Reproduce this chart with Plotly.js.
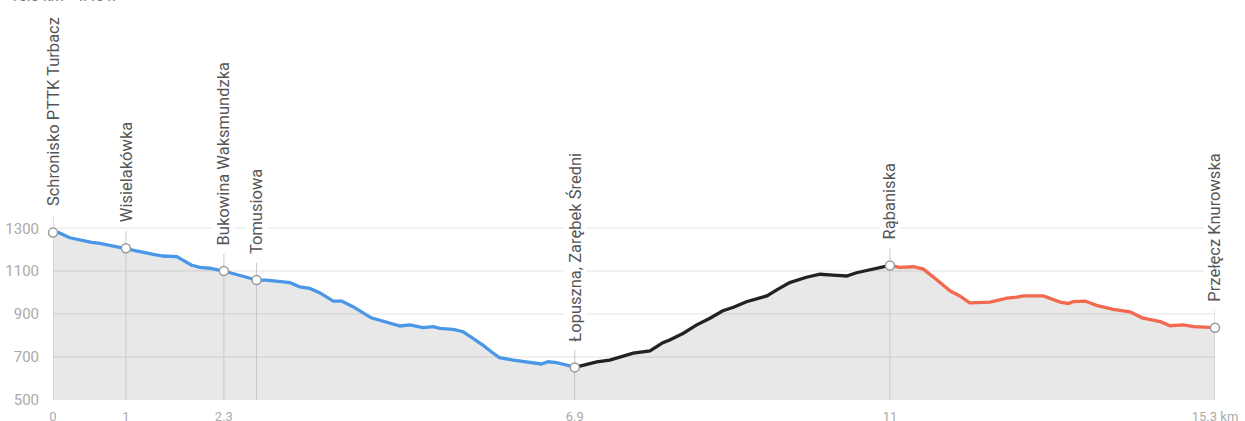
<!DOCTYPE html>
<html>
<head>
<meta charset="utf-8">
<script src="https://cdn.plot.ly/plotly-3.0.1.min.js"></script>
<style>html,body{margin:0;padding:0;background:#fff;}#chart{width:1245px;height:421px;}</style>
</head>
<body>
<div id="chart"></div>
<script>
// Segment 1 (blue): Schronisko PTTK Turbacz -> Łopuszna
const blueKm = [0,0.07,0.22,0.35,0.51,0.62,0.79,0.96,1.14,1.32,1.45,1.63,1.71,1.82,1.93,2.06,2.25,2.37,2.55,2.68,2.81,2.99,3.12,3.25,3.38,3.51,3.69,3.80,3.95,4.19,4.35,4.57,4.70,4.87,5.01,5.09,5.27,5.40,5.53,5.66,5.77,5.88,6.06,6.24,6.43,6.52,6.63,6.76,6.87];
const blueEle = [1280,1281,1256,1245,1235,1230,1217,1207,1194,1179,1171,1168,1152,1129,1118,1114,1101,1090,1072,1059,1059,1051,1047,1027,1020,1000,961,961,935,883,868,845,850,837,842,834,829,818,787,756,725,697,686,678,668,678,674,663,652];
// Segment 2 (black): Łopuszna -> Rąbaniska
const blackKm = [6.87,7.03,7.16,7.33,7.46,7.64,7.86,8.03,8.12,8.30,8.47,8.65,8.82,8.96,9.13,9.40,9.53,9.70,9.92,10.10,10.27,10.45,10.58,10.76,10.89,11.02];
const blackEle = [652,668,678,686,699,718,729,767,780,811,849,881,916,932,958,985,1013,1047,1072,1086,1082,1078,1093,1106,1118,1127];
// Segment 3 (red): Rąbaniska -> Przełęcz Knurowska
const redKm = [11.02,11.15,11.33,11.46,11.64,11.81,11.94,12.07,12.34,12.56,12.69,12.78,13.04,13.26,13.37,13.43,13.59,13.74,13.96,14.18,14.34,14.58,14.71,14.88,15.02,15.30];
const redEle = [1127,1118,1121,1110,1059,1009,985,953,956,975,979,985,985,956,950,958,961,941,922,911,883,865,846,850,842,837];

// Waypoints
const wpNames = ['Schronisko PTTK Turbacz','Wisielakówka','Bukowina Waksmundzka','Tomusiowa','Łopuszna, Zarębek Średni','Rąbaniska','Przełęcz Knurowska'];
const wpKm = [0,0.96,2.25,2.68,6.87,11.02,15.30];
const wpEle = [1280,1207,1101,1059,652,1127,837];

// Axis ticks
const xTickVals = [0,0.96,2.25,6.87,11.02,15.30];
const xTickText = ['0','1','2.3','6.9','11','15.3 km'];
const yTickVals = [500,700,900,1100,1300];

const allKm = blueKm.concat(blackKm.slice(1), redKm.slice(1));
const allEle = blueEle.concat(blackEle.slice(1), redEle.slice(1));

const traces = [];
traces.push({x: allKm, y: allEle, type:'scatter', mode:'lines', fill:'tozeroy',
  fillcolor:'rgba(0,0,0,0.09)', line:{width:0}, hoverinfo:'skip', showlegend:false});

// vertical guide lines
const vx = [], vy = [];
wpKm.forEach((k,i)=>{ vx.push(k,k,null); vy.push(500, wpEle[i]+80, null); });
traces.push({x:vx, y:vy, type:'scatter', mode:'lines', line:{color:'#c8c8c8', width:1}, hoverinfo:'skip', showlegend:false});

traces.push({x: blueKm, y: blueEle, type:'scatter', mode:'lines', line:{color:'#4a97e8', width:3.3}, showlegend:false});
traces.push({x: blackKm, y: blackEle, type:'scatter', mode:'lines', line:{color:'#222222', width:3.3}, showlegend:false});
traces.push({x: redKm, y: redEle, type:'scatter', mode:'lines', line:{color:'#f2694f', width:3.3}, showlegend:false});

traces.push({x: wpKm, y: wpEle, type:'scatter', mode:'markers',
  marker:{size:9, color:'#ffffff', line:{color:'#9a9a9a', width:1.5}}, showlegend:false, cliponaxis:false});

const annotations = wpNames.map((n,i)=>({
  x: wpKm[i], y: wpEle[i], xref:'x', yref:'y', text:n, showarrow:false,
  textangle:-90, yanchor:'bottom', xanchor:'center', yshift:24,
  bgcolor:'#ffffff', borderpad:1,
  font:{family:'Roboto, sans-serif', size:16.5, color:'#555555'}
}));
annotations.push({x:0, y:1, xref:'paper', yref:'paper', xanchor:'left', yanchor:'bottom', xshift:-45, yshift:-7,
  text:'15.3 km   4:45 h', showarrow:false, font:{family:'Roboto, sans-serif', size:15, color:'#777'}});

const layout = {
  width:1245, height:421,
  margin:{l:53, r:30, t:0, b:21, pad:0},
  paper_bgcolor:'#ffffff', plot_bgcolor:'#ffffff',
  font:{family:'Roboto, sans-serif'},
  xaxis:{range:[0,15.3], tickvals:xTickVals, ticktext:xTickText, showgrid:false, zeroline:false,
    showline:false, ticks:'outside', ticklen:4, tickcolor:'rgba(0,0,0,0)', automargin:false,
    tickfont:{size:13, color:'#aaaaaa'}},
  yaxis:{range:[500,2364], tickvals:yTickVals, showgrid:true, gridcolor:'#f1f1f1', gridwidth:2,
    zeroline:false, showline:false, ticks:'outside', ticklen:10, tickcolor:'rgba(0,0,0,0)', automargin:false,
    tickfont:{size:15, color:'#aaaaaa'}},
  annotations: annotations,
  showlegend:false
};

Plotly.newPlot('chart', traces, layout, {displayModeBar:false, staticPlot:true});
</script>
</body>
</html>
